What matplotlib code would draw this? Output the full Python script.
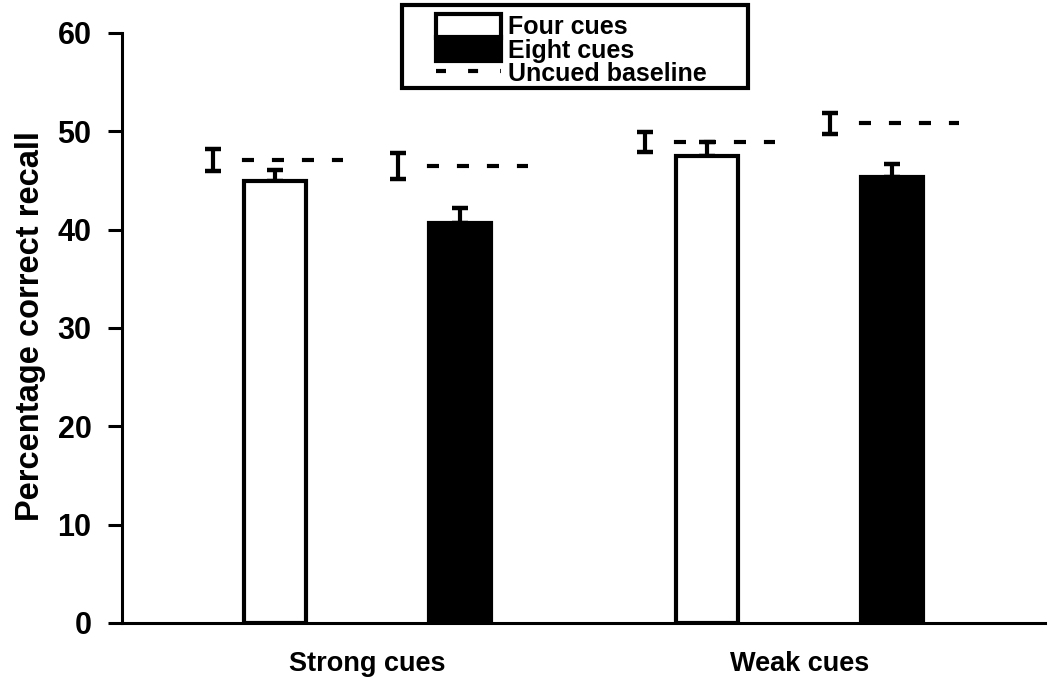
import numpy as np
import matplotlib
matplotlib.use("Agg")
import matplotlib.pyplot as plt
from matplotlib.patches import Patch, Rectangle
from matplotlib.lines import Line2D

plt.rcParams['font.family'] = ['Liberation Sans', 'DejaVu Sans']
plt.rcParams['font.weight'] = 'bold'

# data
categories = ['Strong cues', 'Weak cues']
four_cues = [44.9, 47.5]
four_err = [1.2, 1.4]
eight_cues = [40.7, 45.4]
eight_err = [1.5, 1.3]
base_four = [47.1, 48.9]
base_four_err = [1.15, 1.0]
base_eight = [46.5, 50.8]
base_eight_err = [1.3, 1.1]

x = np.arange(len(categories))
off = 0.214
w = 0.1435

fig = plt.figure(figsize=(10.5, 6.96), dpi=100)
ax = fig.add_axes([122/1050, 1-623/696, 923/1050, 590/696])

lw = 3
ax.bar(x - off, four_cues, w, color='white', edgecolor='black', linewidth=lw, zorder=2)
ax.bar(x + off, eight_cues, w, color='black', edgecolor='black', linewidth=lw, zorder=2)
ax.errorbar(x - off, four_cues, yerr=[np.zeros(2), four_err], fmt='none',
            ecolor='black', elinewidth=3, capsize=6, capthick=3.2, zorder=1)
ax.errorbar(x + off, eight_cues, yerr=[np.zeros(2), eight_err], fmt='none',
            ecolor='black', elinewidth=3, capsize=6, capthick=3.2, zorder=1)

# uncued baselines: dashed line with an error bar at its left end
dash_on, dash_off = 2.9, 4.3
ls = (dash_on, (dash_on, dash_off))
for centers, vals, errs in [(x - off, base_four, base_four_err),
                            (x + off, base_eight, base_eight_err)]:
    for c, v, e in zip(centers, vals, errs):
        ax.plot([c - 0.118, c + 0.157], [v, v], color='black', lw=3, linestyle=ls)
        ax.errorbar(c - w, v, yerr=e, fmt='none', ecolor='black',
                    elinewidth=3, capsize=6, capthick=3.2)

ax.set_xlim(-0.568, 1.569)
ax.set_ylim(0, 60)
ax.set_yticks(np.arange(0, 61, 10))
ax.set_xticks(x)
ax.set_xticklabels(categories, fontsize=19.5, fontweight='bold')
ax.tick_params(axis='x', length=0, pad=20)
ax.tick_params(axis='y', length=10, width=2.2, pad=12, labelsize=22)
for s in ['top', 'right']:
    ax.spines[s].set_visible(False)
for s in ['left', 'bottom']:
    ax.spines[s].set_linewidth(2.2)
ax.spines['left'].set_bounds(0, 60)

ax.set_ylabel('Percentage correct recall', fontsize=23.5, fontweight='bold', va='center')
ax.yaxis.set_label_coords(-0.0986, 0.503)

handles = [Patch(facecolor='white', edgecolor='black', linewidth=lw),
           Patch(facecolor='black', edgecolor='black', linewidth=lw),
           Line2D([], [], color='black', lw=3, linestyle=(0, (2.4, 5.3)))]
leg = fig.legend(handles, ['Four cues', 'Eight cues', 'Uncued baseline'],
                 loc='upper left', bbox_to_anchor=(436/1050, 1-14/696),
                 frameon=False, prop={'weight': 'bold', 'size': 18},
                 handlelength=2.6, handleheight=1.1, handletextpad=0.3,
                 labelspacing=-0.09, borderpad=0, borderaxespad=0)
fig.patches.append(Rectangle((402/1050, 1-88/696), 346/1050, 83/696,
                             transform=fig.transFigure, fill=False,
                             edgecolor='black', linewidth=3))

fig.savefig('out.png', dpi=100)
